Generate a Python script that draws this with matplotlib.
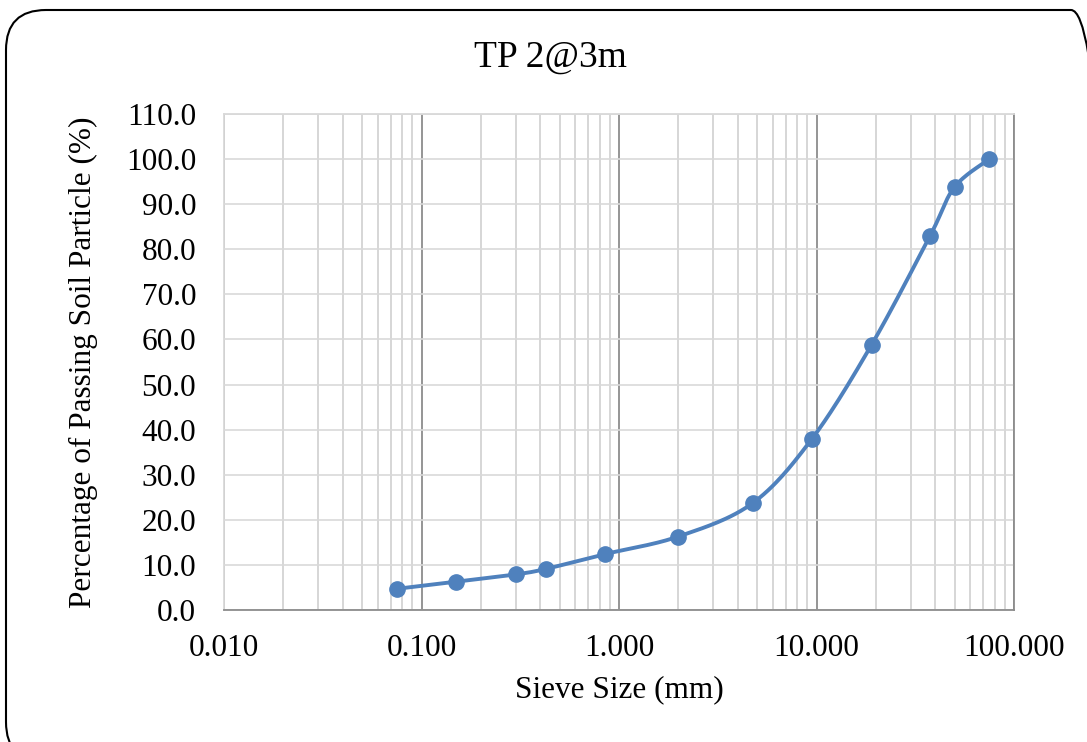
import numpy as np
import matplotlib
matplotlib.use("Agg")
import matplotlib.pyplot as plt
from matplotlib.patches import FancyBboxPatch
from matplotlib.transforms import IdentityTransform
from matplotlib.ticker import FixedLocator, FuncFormatter

# sieve analysis data
sieve_mm = [0.075, 0.15, 0.3, 0.425, 0.85, 2.0, 4.75, 9.5, 19.0, 37.5, 50.0, 75.0]
passing = [4.7, 6.3, 7.9, 9.1, 12.4, 16.3, 23.7, 38.0, 58.8, 82.9, 93.8, 100.0]

title = "TP 2@3m"
xlabel = "Sieve Size (mm)"
ylabel = "Percentage of Passing Soil Particle (%)"

plt.rcParams['font.family'] = ['Liberation Serif', 'DejaVu Serif']

W, H = 1087, 742
fig = plt.figure(figsize=(W / 100, H / 100), dpi=100)

# rounded border round the chart (pixel coords, runs off right and bottom)
border = FancyBboxPatch((6, -20), 1105, 752 - 10 - (-20) - 10,
                        boxstyle="round,pad=0,rounding_size=40",
                        transform=IdentityTransform(), fill=False,
                        edgecolor='black', linewidth=1.5)
fig.patches.append(border)

ax = fig.add_axes([224 / W, 1 - 610 / H, (1014 - 224) / W, (610 - 114) / H])
ax.set_xscale('log')
ax.set_xlim(0.01, 100)
ax.set_ylim(0, 110)

# smooth line like the spreadsheet one (bezier in screen space)
lx = np.log10(sieve_mm) / 4.0 * 790
py = np.array(passing) / 110 * 496
pts = np.column_stack([lx, py])
curve = []
n = len(pts)
for i in range(n - 1):
    p0 = pts[i - 1] if i > 0 else pts[i]
    p1 = pts[i]
    p2 = pts[i + 1]
    p3 = pts[i + 2] if i + 2 < n else pts[i + 1]
    c1 = p1 + (p2 - p0) / 6
    c2 = p2 - (p3 - p1) / 6
    t = np.linspace(0, 1, 30)[:, None]
    seg = (1 - t) ** 3 * p1 + 3 * (1 - t) ** 2 * t * c1 + 3 * (1 - t) * t ** 2 * c2 + t ** 3 * p2
    curve.append(seg if i == 0 else seg[1:])
curve = np.vstack(curve)
cx = 10 ** (curve[:, 0] / 790 * 4.0)
cy = curve[:, 1] / 496 * 110

blue = '#4F81BD'
ax.plot(cx, cy, color=blue, linewidth=2.8, zorder=3)
ax.plot(sieve_mm, passing, linestyle='none', marker='o', markersize=11,
        color=blue, zorder=4)

# grid
ax.xaxis.set_major_locator(FixedLocator([0.01, 0.1, 1, 10, 100]))
minors = [m * 10.0 ** e for e in range(-2, 2) for m in range(2, 10)]
ax.xaxis.set_minor_locator(FixedLocator(minors))
ax.set_yticks(np.arange(0, 111, 10))
ax.xaxis.set_major_formatter(FuncFormatter(lambda v, p: f"{v:.3f}"))
ax.yaxis.set_major_formatter(FuncFormatter(lambda v, p: f"{v:.1f}"))
ax.grid(True, which='minor', axis='x', color='#D0D0D0', linewidth=1.2)
ax.grid(True, which='major', axis='x', color='#8C8C8C', linewidth=1.3)
ax.grid(True, which='major', axis='y', color='#D9D9D9', linewidth=1.2)
ax.set_axisbelow(True)

ax.tick_params(which='both', length=0, labelsize=22.5, colors='black')
ax.tick_params(axis='x', pad=17)
ax.tick_params(axis='y', pad=20)

for s in ['top', 'left']:
    ax.spines[s].set_color('#D9D9D9')
ax.spines['bottom'].set_color('#8C8C8C')
ax.spines['right'].set_color('#8C8C8C')
for s in ax.spines.values():
    s.set_linewidth(1.3)

fig.text(551 / W, 1 - 57 / H, title, ha='center', va='center', fontsize=27)
fig.text(0.5 * (224 + 1014) / W, 1 - 690 / H, xlabel, ha='center', va='center', fontsize=22.5)
fig.text(83 / W, 1 - 362 / H, ylabel, ha='center', va='center', rotation=90, fontsize=22.5)

fig.savefig("out.png", dpi=100)
